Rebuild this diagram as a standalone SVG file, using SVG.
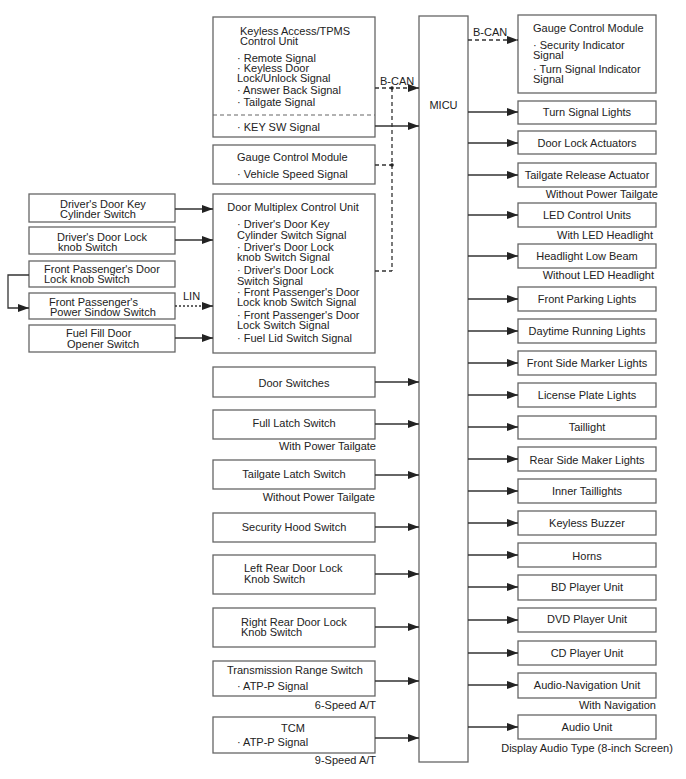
<svg xmlns="http://www.w3.org/2000/svg" width="686" height="779" viewBox="0 0 686 779">
<defs>
<marker id="ah" markerUnits="userSpaceOnUse" markerWidth="11" markerHeight="8" refX="11" refY="4" orient="auto">
<path d="M0,0 L11,4 L0,8 z" fill="#222"/>
</marker>
<style>
.b{fill:#fff;stroke:#666;stroke-width:1.3}
text{font-family:"Liberation Sans",Arial,sans-serif;font-size:11px;fill:#222}
.m{text-anchor:middle}
.e{text-anchor:end}
.c{stroke:#333;stroke-width:1.3;fill:none}
.a{marker-end:url(#ah)}
.d{stroke-dasharray:4,3}
.o{stroke-dasharray:2,2}
</style>
</defs>
<rect width="686" height="779" fill="#fff"/>

<g id="micu"><rect class="b" x="419" y="16" width="49" height="746"/><text x="443.5" y="109" class="m">MICU</text></g>

<g id="keyless"><rect class="b" x="213" y="17" width="162" height="120"/>
<line x1="213" y1="115" x2="375" y2="115" stroke="#666" stroke-width="1.2" stroke-dasharray="4,3"/>
<text x="240" y="35">Keyless Access/TPMS</text><text x="240" y="45">Control Unit</text>
<text x="237" y="62">· Remote Signal</text><text x="237" y="72">· Keyless Door</text><text x="237" y="82">Lock/Unlock Signal</text>
<text x="237" y="94">· Answer Back Signal</text><text x="237" y="106">· Tailgate Signal</text><text x="237" y="131">· KEY SW Signal</text></g>

<g id="gauge-left"><rect class="b" x="213" y="145" width="162" height="39"/>
<text x="237" y="161">Gauge Control Module</text><text x="237" y="178">· Vehicle Speed Signal</text></g>

<g id="door-multiplex"><rect class="b" x="213" y="194" width="162" height="159"/>
<text x="293" y="211" class="m">Door Multiplex Control Unit</text>
<text x="237" y="228">· Driver's Door Key</text><text x="237" y="239">Cylinder Switch Signal</text>
<text x="237" y="251">· Driver's Door Lock</text><text x="237" y="261">knob Switch Signal</text>
<text x="237" y="274">· Driver's Door Lock</text><text x="237" y="285">Switch Signal</text>
<text x="237" y="296">· Front Passenger's Door</text><text x="237" y="306">Lock knob Switch Signal</text>
<text x="237" y="319">· Front Passenger's Door</text><text x="237" y="329">Lock Switch Signal</text>
<text x="237" y="342">· Fuel Lid Switch Signal</text></g>

<g id="l1"><rect class="b" x="29" y="194" width="146" height="28"/><text x="60" y="208">Driver's Door Key</text><text x="60" y="218">Cylinder Switch</text></g>
<g id="l2"><rect class="b" x="29" y="227" width="146" height="27"/><text x="57" y="241">Driver's Door Lock</text><text x="58" y="251">knob Switch</text></g>
<g id="l3"><rect class="b" x="29" y="261" width="146" height="26"/><text x="44" y="273">Front Passenger's Door</text><text x="44" y="283">Lock knob Switch</text></g>
<g id="l4"><rect class="b" x="29" y="293" width="146" height="26"/><text x="49" y="306">Front Passenger's</text><text x="50" y="316">Power Sindow Switch</text></g>
<g id="l5"><rect class="b" x="29" y="325" width="146" height="27"/><text x="66" y="337">Fuel Fill Door</text><text x="67" y="348">Opener Switch</text></g>

<g id="door-switches"><rect class="b" x="213" y="367" width="162" height="30"/><text x="294" y="387" class="m">Door Switches</text></g>
<g id="full-latch"><rect class="b" x="213" y="410" width="162" height="29"/><text x="294" y="427" class="m">Full Latch Switch</text></g>
<text x="376" y="450" class="e">With Power Tailgate</text>
<g id="tailgate-latch"><rect class="b" x="213" y="460" width="162" height="29"/><text x="294" y="478" class="m">Tailgate Latch Switch</text></g>
<text x="375" y="501" class="e">Without Power Tailgate</text>
<g id="hood"><rect class="b" x="213" y="513" width="162" height="29"/><text x="294" y="531" class="m">Security Hood Switch</text></g>
<g id="lr-door"><rect class="b" x="213" y="555" width="162" height="39"/><text x="244" y="572">Left Rear Door Lock</text><text x="244" y="583">Knob Switch</text></g>
<g id="rr-door"><rect class="b" x="213" y="608" width="162" height="39"/><text x="241" y="626">Right Rear Door Lock</text><text x="241" y="636">Knob Switch</text></g>
<g id="trs"><rect class="b" x="213" y="661" width="162" height="35"/><text x="295" y="674" class="m">Transmission Range Switch</text><text x="237" y="690">· ATP-P Signal</text></g>
<text x="376" y="709" class="e">6-Speed A/T</text>
<g id="tcm"><rect class="b" x="213" y="717" width="162" height="36"/><text x="293" y="732" class="m">TCM</text><text x="237" y="746">· ATP-P Signal</text></g>
<text x="376" y="764" class="e">9-Speed A/T</text>

<g id="gauge-right"><rect class="b" x="518" y="15" width="138" height="78"/>
<text x="533" y="32">Gauge Control Module</text><text x="533" y="49">· Security Indicator</text><text x="533" y="59">Signal</text>
<text x="533" y="73">· Turn Signal Indicator</text><text x="533" y="83">Signal</text></g>

<g id="r1"><rect class="b" x="518" y="101" width="138" height="23"/><text x="587" y="116" class="m">Turn Signal Lights</text></g>
<g id="r2"><rect class="b" x="518" y="131" width="138" height="23"/><text x="587" y="147" class="m">Door Lock Actuators</text></g>
<g id="r3"><rect class="b" x="518" y="163" width="138" height="24"/><text x="587" y="179" class="m">Tailgate Release Actuator</text></g>
<text x="658" y="198" class="e">Without Power Tailgate</text>
<g id="r4"><rect class="b" x="518" y="203" width="138" height="24"/><text x="587" y="219" class="m">LED Control Units</text></g>
<text x="653" y="239" class="e">With LED Headlight</text>
<g id="r5"><rect class="b" x="518" y="244" width="138" height="24"/><text x="587" y="260" class="m">Headlight Low Beam</text></g>
<text x="654" y="279" class="e">Without LED Headlight</text>
<g id="r6"><rect class="b" x="518" y="287" width="138" height="24"/><text x="587" y="303" class="m">Front Parking Lights</text></g>
<g id="r7"><rect class="b" x="518" y="319" width="138" height="24"/><text x="587" y="335" class="m">Daytime Running Lights</text></g>
<g id="r8"><rect class="b" x="518" y="351" width="138" height="24"/><text x="587" y="367" class="m">Front Side Marker Lights</text></g>
<g id="r9"><rect class="b" x="518" y="383" width="138" height="24"/><text x="587" y="399" class="m">License Plate Lights</text></g>
<g id="r10"><rect class="b" x="518" y="416" width="138" height="23"/><text x="587" y="431" class="m">Taillight</text></g>
<g id="r11"><rect class="b" x="518" y="447" width="138" height="24"/><text x="587" y="464" class="m">Rear Side Maker Lights</text></g>
<g id="r12"><rect class="b" x="518" y="479" width="138" height="24"/><text x="587" y="495" class="m">Inner Taillights</text></g>
<g id="r13"><rect class="b" x="518" y="511" width="138" height="24"/><text x="587" y="527" class="m">Keyless Buzzer</text></g>
<g id="r14"><rect class="b" x="518" y="543" width="138" height="24"/><text x="587" y="560" class="m">Horns</text></g>
<g id="r15"><rect class="b" x="518" y="575" width="138" height="25"/><text x="587" y="591" class="m">BD Player Unit</text></g>
<g id="r16"><rect class="b" x="518" y="608" width="138" height="24"/><text x="587" y="623" class="m">DVD Player Unit</text></g>
<g id="r17"><rect class="b" x="518" y="641" width="138" height="24"/><text x="587" y="657" class="m">CD Player Unit</text></g>
<g id="r18"><rect class="b" x="518" y="673" width="138" height="25"/><text x="587" y="689" class="m">Audio-Navigation Unit</text></g>
<text x="656" y="709" class="e">With Navigation</text>
<g id="r19"><rect class="b" x="518" y="715" width="138" height="24"/><text x="587" y="731" class="m">Audio Unit</text></g>
<text x="587" y="752" class="m">Display Audio Type (8-inch Screen)</text>

<g id="connectors">
<text x="380" y="85">B-CAN</text>
<text x="473" y="36">B-CAN</text>
<text x="183" y="300">LIN</text>
<line class="c d a" x1="375" y1="88" x2="419" y2="88"/>
<line class="c d" x1="392" y1="88" x2="392" y2="271"/>
<line class="c d" x1="375" y1="165" x2="392" y2="165"/>
<line class="c d" x1="375" y1="271" x2="392" y2="271"/>
<circle cx="392" cy="88" r="1.8" fill="#222"/>
<circle cx="392" cy="165" r="1.8" fill="#222"/>
<line class="c a" x1="375" y1="126" x2="419" y2="126"/>
<line class="c d a" x1="468" y1="40" x2="518" y2="40"/>
<line class="c a" x1="175" y1="209" x2="213" y2="209"/>
<line class="c a" x1="175" y1="240" x2="213" y2="240"/>
<line class="c o a" x1="175" y1="306" x2="213" y2="306"/>
<line class="c a" x1="175" y1="338" x2="213" y2="338"/>
<path class="c a" d="M29,275 H8 V308 H29"/>
<line class="c a" x1="375" y1="382" x2="419" y2="382"/>
<line class="c a" x1="375" y1="424" x2="419" y2="424"/>
<line class="c a" x1="375" y1="475" x2="419" y2="475"/>
<line class="c a" x1="375" y1="527" x2="419" y2="527"/>
<line class="c a" x1="375" y1="574" x2="419" y2="574"/>
<line class="c a" x1="375" y1="627" x2="419" y2="627"/>
<line class="c a" x1="375" y1="681" x2="419" y2="681"/>
<line class="c a" x1="375" y1="738" x2="419" y2="738"/>
<line class="c a" x1="468" y1="112" x2="518" y2="112"/>
<line class="c a" x1="468" y1="143" x2="518" y2="143"/>
<line class="c a" x1="468" y1="175" x2="518" y2="175"/>
<line class="c a" x1="468" y1="215" x2="518" y2="215"/>
<line class="c a" x1="468" y1="256" x2="518" y2="256"/>
<line class="c a" x1="468" y1="299" x2="518" y2="299"/>
<line class="c a" x1="468" y1="331" x2="518" y2="331"/>
<line class="c a" x1="468" y1="363" x2="518" y2="363"/>
<line class="c a" x1="468" y1="395" x2="518" y2="395"/>
<line class="c a" x1="468" y1="427" x2="518" y2="427"/>
<line class="c a" x1="468" y1="459" x2="518" y2="459"/>
<line class="c a" x1="468" y1="491" x2="518" y2="491"/>
<line class="c a" x1="468" y1="523" x2="518" y2="523"/>
<line class="c a" x1="468" y1="555" x2="518" y2="555"/>
<line class="c a" x1="468" y1="587" x2="518" y2="587"/>
<line class="c a" x1="468" y1="620" x2="518" y2="620"/>
<line class="c a" x1="468" y1="653" x2="518" y2="653"/>
<line class="c a" x1="468" y1="685" x2="518" y2="685"/>
<line class="c a" x1="468" y1="727" x2="518" y2="727"/>
</g>
</svg>
